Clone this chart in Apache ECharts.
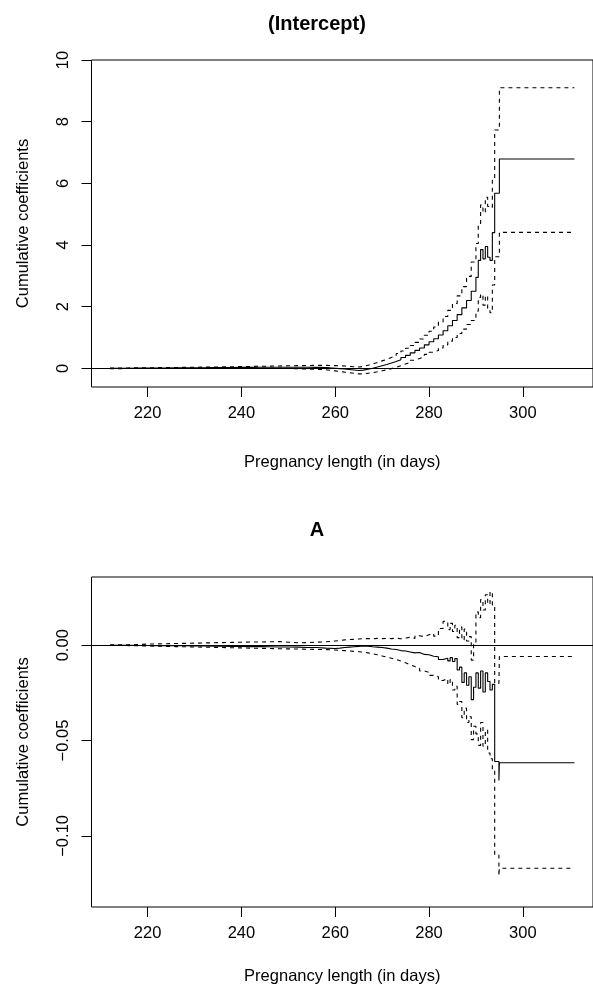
<!DOCTYPE html>
<html><head><meta charset="utf-8">
<script src="https://cdn.jsdelivr.net/npm/echarts@6/dist/echarts.min.js"></script>
<style>html,body{margin:0;padding:0;background:#fff}#c{width:593px;height:989px}</style>
</head><body><div id="c"></div>
<script>
// ---- tick labels ----
const xTicks = [220, 240, 260, 280, 300];
const yTicks1 = [0, 2, 4, 6, 8, 10];
const yTicks2 = [-0.10, -0.05, 0.00];

// ---- panel 1: (Intercept) ----
const days1 = [212,214,216,218,220,222,224,226,228,230,232,234,236,238,240,242,244,246,248,250,252,254,256,
  258,259,260,261,262,263,264,265,266,267,268,269,270,271,272,273,274,275,276,277,278,279,280,281,282,283,284,285,286,287,288,289,290,
  290.5,291,291.5,292,292.5,293,293.5,294,295,311];
const est1 = [0,0.002,0.004,0.006,0.008,0.01,0.012,0.014,0.016,0.018,0.02,0.022,0.025,0.028,0.03,0.032,0.034,0.036,0.036,0.035,0.033,0.03,0.025,
  0.012,0.0,-0.012,-0.025,-0.04,-0.055,-0.07,-0.06,-0.03,0.0,0.04,0.08,0.12,0.17,0.22,0.28,0.35,0.42,0.5,0.58,0.66,0.76,0.86,0.96,1.08,1.22,1.38,1.55,1.74,1.96,2.2,2.5,2.95,
  3.5,3.85,3.55,3.95,3.6,3.5,4.4,5.68,6.79,6.79];
const upper1 = [0.01,0.012,0.015,0.018,0.02,0.023,0.026,0.03,0.033,0.037,0.04,0.045,0.05,0.055,0.06,0.065,0.07,0.075,0.08,0.085,0.09,0.095,0.095,
  0.09,0.085,0.08,0.075,0.06,0.05,0.04,0.06,0.1,0.14,0.19,0.24,0.29,0.35,0.41,0.48,0.56,0.65,0.74,0.84,0.95,1.07,1.2,1.34,1.5,1.68,1.88,2.1,2.35,2.65,2.98,3.45,4.05,
  4.7,5.3,5.05,5.55,5.25,5.2,6.1,7.73,9.1,9.1];
const lower1 = [-0.01,-0.008,-0.007,-0.006,-0.004,-0.003,-0.002,-0.002,-0.001,-0.001,0.0,-0.001,0.0,0.001,0.0,-0.001,-0.002,-0.003,-0.008,-0.015,-0.024,-0.035,-0.045,
  -0.066,-0.085,-0.104,-0.125,-0.14,-0.16,-0.18,-0.18,-0.16,-0.14,-0.11,-0.08,-0.05,-0.01,0.03,0.08,0.14,0.19,0.26,0.32,0.37,0.45,0.52,0.58,0.66,0.76,0.88,1.0,1.13,1.27,1.42,1.55,1.85,
  2.3,2.4,2.05,2.35,1.95,1.8,2.7,3.62,4.41,4.41];

// ---- panel 2: A ----
const days2 = [212,214,216,218,220,222,224,226,228,230,232,234,236,238,240,242,244,246,248,250,252,254,256,
  258,260,
  261,262,263,264,265,266,267,268,269,270,271,272,273,274,275,276,277,278,279,280,281,282,283,284,
  284.5,285,285.5,286,286.5,287,287.5,288,288.5,289,289.5,290,290.5,291,291.5,292,292.5,293,293.5,
  294,294.9,295,311];
const est2 = [0,0,-0.0001,-0.0001,-0.0002,-0.0002,-0.0003,-0.0003,-0.0004,-0.0004,-0.0005,-0.0005,-0.0006,-0.0006,-0.0007,-0.0007,-0.0008,-0.0009,-0.0009,-0.001,-0.0012,-0.0012,-0.0015,
  -0.0017,-0.0015,
  -0.0012,-0.001,-0.0008,-0.0006,-0.0004,-0.0005,-0.0008,-0.001,-0.0012,-0.0015,-0.002,-0.0022,-0.0028,-0.003,-0.0035,-0.004,-0.0038,-0.0048,-0.005,-0.0058,-0.006,-0.0075,-0.0068,-0.0082,
  -0.0065,-0.0085,-0.007,-0.013,-0.0115,-0.0195,-0.0145,-0.021,-0.0165,-0.0285,-0.022,-0.0145,-0.0225,-0.0135,-0.0245,-0.0145,-0.019,-0.0235,-0.0205,
  -0.061,-0.071,-0.0616,-0.0616];
const upper2 = [0.0002,0.0003,0.0004,0.0006,0.0007,0.0008,0.0009,0.001,0.0011,0.0012,0.0013,0.0014,0.0015,0.0016,0.0017,0.0017,0.0018,0.0019,0.0016,0.0013,0.0014,0.0016,0.0018,
  0.0022,0.0025,
  0.0028,0.003,0.0031,0.0033,0.0035,0.0035,0.0034,0.0036,0.0035,0.0036,0.0035,0.0037,0.0034,0.0038,0.0042,0.0036,0.005,0.0045,0.0055,0.0062,0.0048,0.0088,0.0125,0.0082,
  0.0115,0.0072,0.0105,0.004,0.0095,0.0028,0.0085,0.0022,0.0045,-0.0078,0.0012,0.0175,0.0145,0.024,0.0185,0.0265,0.0215,0.028,0.021,
  -0.02,-0.02,-0.0059,-0.0059];
const lower2 = [-0.0001,-0.0002,-0.0003,-0.0004,-0.0005,-0.0006,-0.0007,-0.0008,-0.0009,-0.001,-0.0011,-0.0012,-0.0013,-0.0014,-0.0015,-0.0016,-0.0017,-0.0018,-0.0019,-0.002,-0.0021,-0.0022,-0.0023,
  -0.0025,-0.0027,
  -0.0028,-0.003,-0.0032,-0.0034,-0.0036,-0.004,-0.0045,-0.005,-0.0056,-0.0062,-0.0068,-0.0075,-0.0083,-0.0092,-0.0102,-0.0112,-0.012,-0.0135,-0.0142,-0.0158,-0.0165,-0.0185,-0.0175,-0.0205,
  -0.018,-0.0235,-0.0215,-0.031,-0.0295,-0.038,-0.033,-0.0405,-0.0375,-0.0495,-0.0425,-0.0465,-0.0525,-0.0405,-0.053,-0.0445,-0.0565,-0.0595,-0.065,
  -0.11,-0.121,-0.117,-0.117];

const FONT = '"Liberation Sans", Arial, Helvetica, sans-serif';
const FS = 16.5;
const chart = echarts.init(document.getElementById('c'), null, {renderer: 'canvas'});
const pts = (d, v) => d.map((x, i) => [x, v[i]]);
const txt = {fontFamily: FONT, fontSize: FS, color: '#000'};

function xAxisCfg(gi, gap) {
  return {
    gridIndex: gi, type: 'value', min: 208.04, max: 314.96,
    name: 'Pregnancy length (in days)', nameLocation: 'middle', nameGap: gap,
    nameTextStyle: txt,
    axisLine: {show: false, onZero: false},
    splitLine: {show: false},
    axisTick: {show: true, customValues: xTicks, length: 10, lineStyle: {color: '#000', width: 1}},
    axisLabel: Object.assign({customValues: xTicks, margin: 18}, txt)
  };
}
function yAxisCfg(gi, mn, mx, ticks, fmt) {
  return {
    gridIndex: gi, type: 'value', min: mn, max: mx,
    name: 'Cumulative coefficients', nameLocation: 'middle', nameGap: 60, nameRotate: 90,
    nameTextStyle: txt,
    axisLine: {show: false, onZero: false},
    splitLine: {show: false},
    axisTick: {show: true, customValues: ticks, length: 10, lineStyle: {color: '#000', width: 1}},
    axisLabel: Object.assign({customValues: ticks, rotate: 90, margin: 20, formatter: fmt}, txt)
  };
}
function lineSeries(gi, d, v, dashed, zero) {
  const s = {
    type: 'line', xAxisIndex: gi, yAxisIndex: gi, step: 'end', showSymbol: false, symbol: 'none',
    data: pts(d, v), silent: true,
    lineStyle: {color: '#000', width: 1.1, type: dashed ? [4, 4] : 'solid'}
  };
  if (zero) {
    s.markLine = {silent: true, symbol: ['none', 'none'], label: {show: false},
      lineStyle: {color: '#000', type: 'solid', width: 1}, data: [{yAxis: 0}]};
  }
  return s;
}
const fmt1 = v => String(v);
const fmt2 = v => Math.abs(v) < 1e-9 ? '0.00' : v.toFixed(2).replace('-', '\u2212');

chart.setOption({
  animation: false,
  backgroundColor: '#fff',
  grid: [
    {left: 91.5, top: 60, width: 511.6, height: 327, show: true, borderColor: '#000', borderWidth: 1, backgroundColor: 'transparent'},
    {left: 91.5, top: 577, width: 511.6, height: 330, show: true, borderColor: '#000', borderWidth: 1, backgroundColor: 'transparent'}
  ],
  xAxis: [xAxisCfg(0, 67), xAxisCfg(1, 61)],
  yAxis: [yAxisCfg(0, -0.607, 10, yTicks1, fmt1), yAxisCfg(1, -0.1373, 0.0358, yTicks2, fmt2)],
  graphic: [
    {type: 'text', x: 317, y: 24, style: {text: '(Intercept)', font: 'bold 20px ' + FONT, fill: '#000', textAlign: 'center', textVerticalAlign: 'middle'}},
    {type: 'text', x: 317, y: 530, style: {text: 'A', font: 'bold 20px ' + FONT, fill: '#000', textAlign: 'center', textVerticalAlign: 'middle'}}
  ],
  series: [
    lineSeries(0, days1, est1, false, true),
    lineSeries(0, days1, upper1, true, false),
    lineSeries(0, days1, lower1, true, false),
    lineSeries(1, days2, est2, false, true),
    lineSeries(1, days2, upper2, true, false),
    lineSeries(1, days2, lower2, true, false)
  ]
});
</script></body></html>
